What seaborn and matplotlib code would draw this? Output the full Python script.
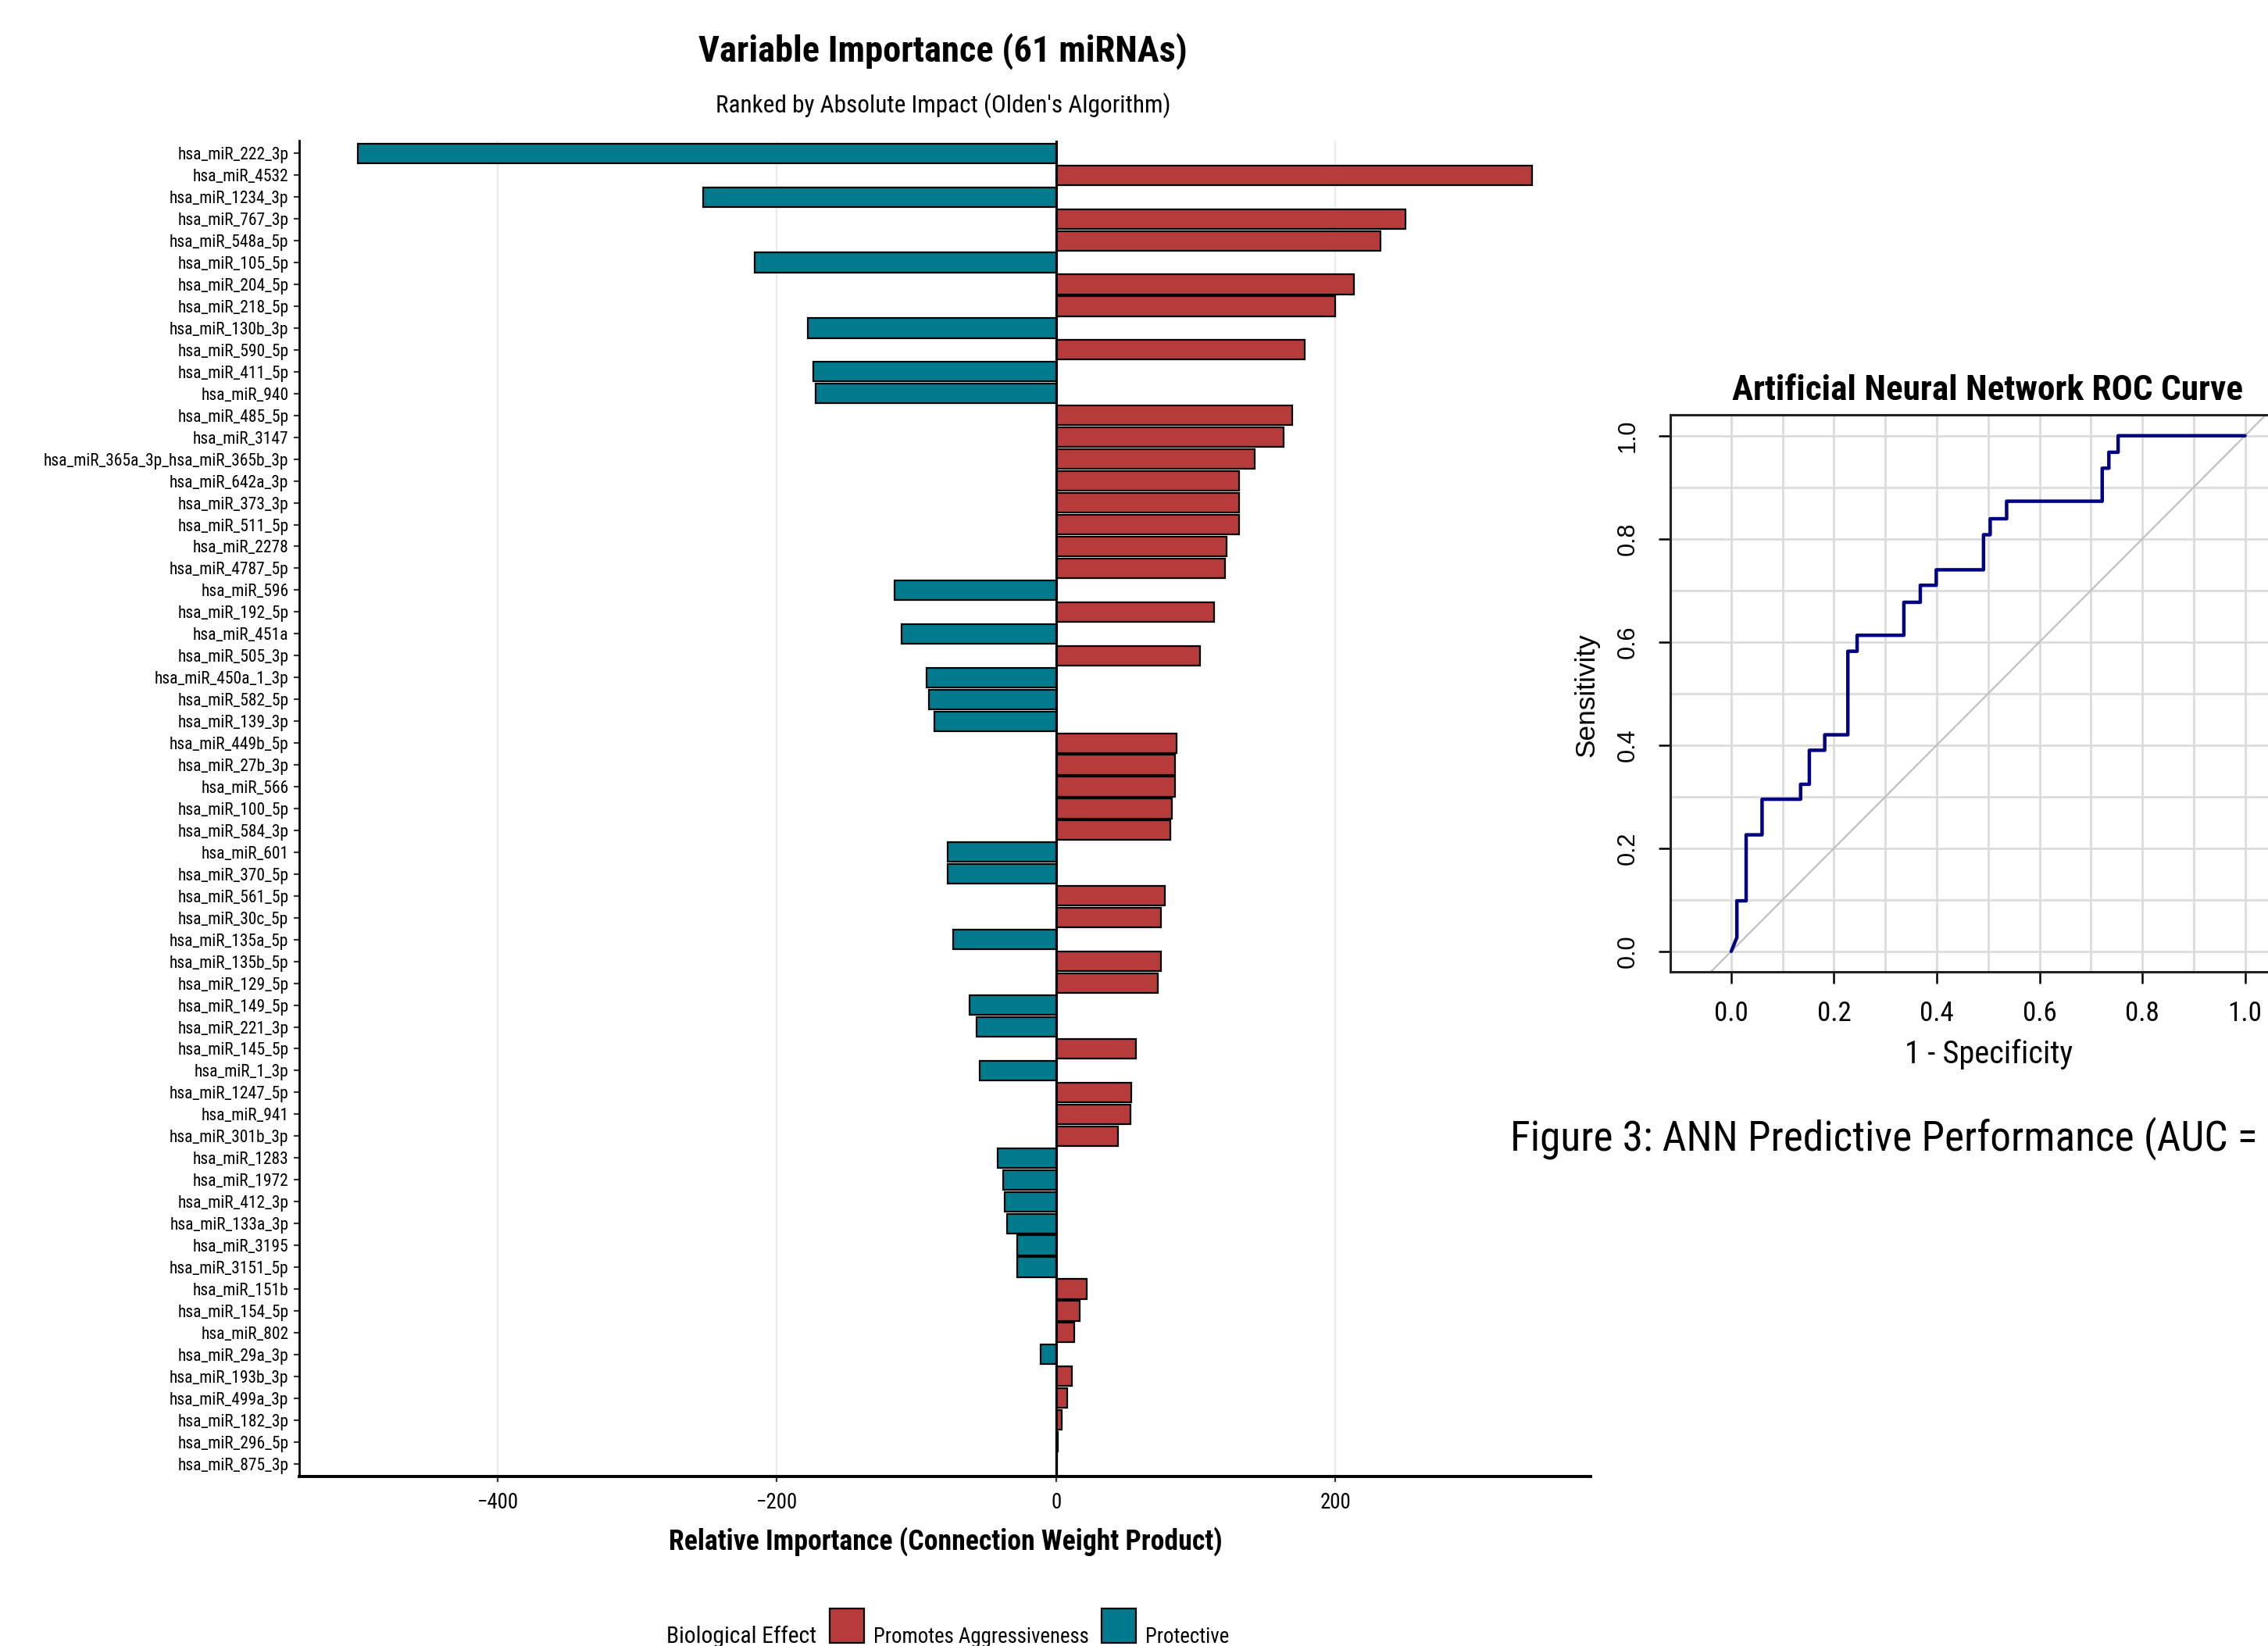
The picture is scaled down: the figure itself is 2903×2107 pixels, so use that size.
import os
import numpy as np
import pandas as pd
import matplotlib
matplotlib.use("Agg")
import matplotlib.pyplot as plt
import seaborn as sns
from matplotlib import font_manager
from matplotlib.patches import Rectangle

# --- data ---
mirnas = [
    "hsa_miR_222_3p", "hsa_miR_4532", "hsa_miR_1234_3p", "hsa_miR_767_3p",
    "hsa_miR_548a_5p", "hsa_miR_105_5p", "hsa_miR_204_5p", "hsa_miR_218_5p",
    "hsa_miR_130b_3p", "hsa_miR_590_5p", "hsa_miR_411_5p", "hsa_miR_940",
    "hsa_miR_485_5p", "hsa_miR_3147", "hsa_miR_365a_3p_hsa_miR_365b_3p",
    "hsa_miR_642a_3p", "hsa_miR_373_3p", "hsa_miR_511_5p", "hsa_miR_2278",
    "hsa_miR_4787_5p", "hsa_miR_596", "hsa_miR_192_5p", "hsa_miR_451a",
    "hsa_miR_505_3p", "hsa_miR_450a_1_3p", "hsa_miR_582_5p", "hsa_miR_139_3p",
    "hsa_miR_449b_5p", "hsa_miR_27b_3p", "hsa_miR_566", "hsa_miR_100_5p",
    "hsa_miR_584_3p", "hsa_miR_601", "hsa_miR_370_5p", "hsa_miR_561_5p",
    "hsa_miR_30c_5p", "hsa_miR_135a_5p", "hsa_miR_135b_5p", "hsa_miR_129_5p",
    "hsa_miR_149_5p", "hsa_miR_221_3p", "hsa_miR_145_5p", "hsa_miR_1_3p",
    "hsa_miR_1247_5p", "hsa_miR_941", "hsa_miR_301b_3p", "hsa_miR_1283",
    "hsa_miR_1972", "hsa_miR_412_3p", "hsa_miR_133a_3p", "hsa_miR_3195",
    "hsa_miR_3151_5p", "hsa_miR_151b", "hsa_miR_154_5p", "hsa_miR_802",
    "hsa_miR_29a_3p", "hsa_miR_193b_3p", "hsa_miR_499a_3p", "hsa_miR_182_3p",
    "hsa_miR_296_5p", "hsa_miR_875_3p",
]
importance = [
    -500, 341, -253, 250, 232, -216, 213, 200, -178, 178, -174, -172,
    169, 163, 142, 131, 131, 131, 122, 121, -116, 113, -111, 103,
    -93, -91, -87, 86, 85, 85, 83, 82, -78, -78, 78, 75, -74, 75, 73,
    -62, -57, 57, -55, 54, 53, 44, -42, -38, -37, -35, -28, -28,
    22, 17, 13, -11, 11, 8, 4, 1, 0.5,
]
effects = ["Promotes Aggressiveness", "Protective"]
effect_colors = {"Promotes Aggressiveness": "#B63B3B", "Protective": "#007A8C"}

roc_fpr = [0.0, 0.011, 0.011, 0.029, 0.029, 0.060, 0.060, 0.135, 0.135, 0.152,
           0.152, 0.182, 0.182, 0.227, 0.227, 0.245, 0.245, 0.336, 0.336, 0.368,
           0.368, 0.399, 0.399, 0.491, 0.491, 0.504, 0.504, 0.536, 0.536, 0.722,
           0.722, 0.735, 0.735, 0.753, 0.753, 1.0]
roc_tpr = [0.0, 0.027, 0.098, 0.098, 0.226, 0.226, 0.295, 0.295, 0.324, 0.324,
           0.390, 0.390, 0.420, 0.420, 0.582, 0.582, 0.613, 0.613, 0.677, 0.677,
           0.710, 0.710, 0.740, 0.740, 0.808, 0.808, 0.839, 0.839, 0.873, 0.873,
           0.937, 0.937, 0.968, 0.968, 1.0, 1.0]

df = pd.DataFrame({"mirna": mirnas, "importance": importance})
df["effect"] = np.where(df["importance"] > 0, effects[0], effects[1])

# --- fonts: look for a narrow / condensed face on disk ---
sns.set_theme(style="white")
REG = "Liberation Sans"
plt.rcParams["font.family"] = [REG, "DejaVu Sans"]
plt.rcParams["text.color"] = "black"
plt.rcParams["xtick.labelcolor"] = "black"
plt.rcParams["ytick.labelcolor"] = "black"

files = set(font_manager.findSystemFonts()) | {f.fname for f in font_manager.fontManager.ttflist}
bynm = {os.path.basename(f).lower(): f for f in files}

def pick(cands):
    for c in cands:
        for nm, path in bynm.items():
            if nm.startswith(c):
                return path
    return None

narrow_reg = pick(["liberationsansnarrow-regular", "arialn.", "robotocondensed-regular",
                   "opensans_condensed-regular", "opensanscondensed-regular",
                   "dejavusanscondensed."])
narrow_bold = pick(["liberationsansnarrow-bold.", "arialnb.", "robotocondensed-bold.",
                    "opensans_condensed-bold.", "opensanscondensed-bold.",
                    "dejavusanscondensed-bold."])
# width factor relative to Arial Narrow
if narrow_reg and ("narrow" in narrow_reg.lower() or "arialn" in narrow_reg.lower()):
    K = 1.0
elif narrow_reg and "roboto" in narrow_reg.lower():
    K = 0.97
elif narrow_reg:
    K = 0.85
else:
    K = 0.82

def nf(size, bold=False):
    path = narrow_bold if bold else narrow_reg
    if path:
        return font_manager.FontProperties(fname=path, size=size * K)
    return font_manager.FontProperties(family=REG, size=size * K,
                                       weight="bold" if bold else "normal")

fig = plt.figure(figsize=(14.515, 10.535), dpi=200)

# --- left panel: variable importance ---
ax1 = fig.add_axes([0.132, 0.1028, 0.5695, 0.812])
sns.barplot(data=df, x="importance", y="mirna", hue="effect", order=mirnas,
            hue_order=effects, palette=effect_colors, saturation=1, dodge=False,
            width=0.9, edgecolor="black", linewidth=0.8, legend=False, ax=ax1,
            zorder=2)
ax1.axvline(0, color="black", lw=1.1, zorder=3)
ax1.set_xlim(-542, 383)
ax1.set_ylim(len(mirnas) - 0.4, -0.6)
ax1.set_xticks([-400, -200, 0, 200])
ax1.grid(axis="x", color="#EBEBEB", lw=0.8)
ax1.grid(axis="y", visible=False)
ax1.set_axisbelow(True)
for s in ["top", "right"]:
    ax1.spines[s].set_visible(False)
ax1.spines["left"].set_color("black")
ax1.spines["left"].set_linewidth(1.0)
ax1.spines["bottom"].set_color("black")
ax1.spines["bottom"].set_linewidth(1.4)
ax1.tick_params(axis="y", left=True, length=2.5, width=0.8, color="#333333",
                pad=2.5, labelcolor="black")
ax1.tick_params(axis="x", bottom=True, length=2.5, width=0.8, color="#333333",
                pad=4.5, labelcolor="black")
for lab in ax1.get_yticklabels():
    lab.set_fontproperties(nf(8.0))
for lab in ax1.get_xticklabels():
    lab.set_fontproperties(nf(10))
ax1.set_xlabel("")
ax1.set_ylabel("")

fig.text(0.4158, 0.969, "Variable Importance (61 miRNAs)", ha="center",
         va="center", fontproperties=nf(17.3, True))
fig.text(0.4158, 0.936, "Ranked by Absolute Impact (Olden's Algorithm)",
         ha="center", va="center", fontproperties=nf(11.6))
fig.text(0.4168, 0.0633, "Relative Importance (Connection Weight Product)",
         ha="center", va="center", fontproperties=nf(13.3, True))

# legend along the bottom edge
base = 1 - 2103 / 2107
fig.text(853 / 2903, base, "Biological Effect", ha="left", va="baseline",
         fontproperties=nf(11))
key_x = [1062 / 2903, 1410 / 2903]
txt_x = [1118 / 2903, 1466 / 2903]
for eff, kx, tx in zip(effects, key_x, txt_x):
    fig.add_artist(Rectangle((kx, 4 / 2107), 44 / 2903, 44 / 2107,
                             transform=fig.transFigure,
                             facecolor=effect_colors[eff], edgecolor="black",
                             lw=0.8))
    fig.text(tx, base, eff, ha="left", va="baseline", fontproperties=nf(10))

# --- right panel: ROC curve ---
ax2 = fig.add_axes([0.7366, 0.4095, 0.28, 0.3383])
ax2.axline((0, 0), (1, 1), color="#C0C0C0", lw=0.8, zorder=1)
sns.lineplot(x=roc_fpr, y=roc_tpr, estimator=None, sort=False,
             color="#000080", lw=1.6, ax=ax2, zorder=3)
ax2.set_xlim(-0.118, 1.118)
ax2.set_ylim(-0.04, 1.04)
ticks = [0.0, 0.2, 0.4, 0.6, 0.8, 1.0]
ax2.set_xticks(ticks)
ax2.set_yticks(ticks)
ax2.set_xticks(np.arange(0, 1.01, 0.1), minor=True)
ax2.set_yticks(np.arange(0, 1.01, 0.1), minor=True)
ax2.grid(which="both", color="#DCDCDC", lw=1.0)
ax2.set_xticklabels([f"{t:.1f}" for t in ticks])
for lab in ax2.get_xticklabels():
    lab.set_fontproperties(nf(13))
ax2.set_yticklabels([f"{t:.1f}" for t in ticks], rotation=90, va="center",
                    family=[REG, "DejaVu Sans"], fontsize=11)
ax2.tick_params(which="minor", length=0)
ax2.tick_params(which="major", direction="out", length=5.4, width=0.9,
                color="black", bottom=True, left=True, labelcolor="black")
ax2.tick_params(axis="x", pad=8)
ax2.tick_params(axis="y", pad=9)
for s in ax2.spines.values():
    s.set_color("#222222")
    s.set_linewidth(1.1)
ax2.set_xlabel("")
ax2.set_ylabel("")

fig.text(0.8763, 0.7627, "Artificial Neural Network ROC Curve", ha="center",
         va="center", fontproperties=nf(16.8, True))
fig.text(0.877, 0.3594, "1 - Specificity", ha="center", va="center",
         fontproperties=nf(15))
fig.text(0.6996, 0.578, "Sensitivity", ha="center", va="center", rotation=90,
         family=[REG, "DejaVu Sans"], fontsize=12.7)
fig.text(0.6658, 0.3084, "Figure 3: ANN Predictive Performance (AUC =",
         ha="left", va="center", fontproperties=nf(19.8))

fig.savefig("out.png", dpi=200, facecolor="white")
